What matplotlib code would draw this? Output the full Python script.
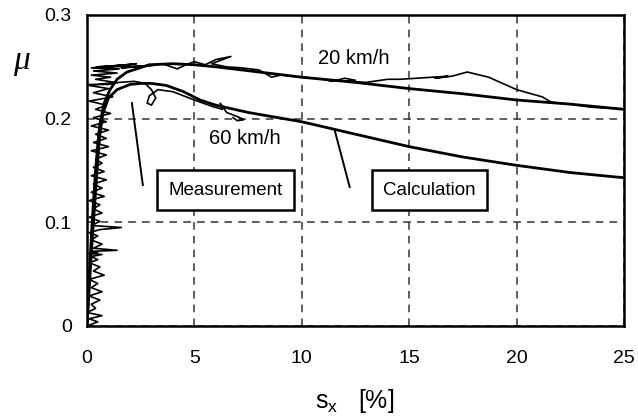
import numpy as np
import matplotlib.pyplot as plt

plt.rcParams['font.family'] = ['Liberation Sans', 'DejaVu Sans']
plt.rcParams['mathtext.fontset'] = 'custom'
plt.rcParams['mathtext.rm'] = 'Liberation Sans'
plt.rcParams['mathtext.it'] = 'Liberation Serif:italic'

# calculated friction curves (slip in %, mu)
calc20_x = [0, 0.1, 0.2, 0.3, 0.4, 0.5, 0.6, 0.8, 1.07, 1.4, 1.86, 2.9, 4.0, 5.0, 6.0, 8.0,
            10.0, 12.5, 15.0, 17.5, 20.0, 22.5, 25.0]
calc20_y = [0, 0.045, 0.085, 0.12, 0.15, 0.175, 0.195, 0.215, 0.228, 0.238, 0.245, 0.252,
            0.253, 0.252, 0.250, 0.245, 0.240, 0.235, 0.229, 0.224, 0.218, 0.214, 0.209]

calc60_x = [0, 0.1, 0.2, 0.3, 0.4, 0.5, 0.6, 0.74, 1.0, 1.4, 2.0, 2.5, 3.0, 3.7, 4.5, 5.26,
            6.0, 7.5, 10.0, 12.5, 15.0, 17.5, 20.0, 22.5, 25.0]
calc60_y = [0, 0.035, 0.07, 0.1, 0.13, 0.16, 0.185, 0.205, 0.22, 0.228, 0.233, 0.234, 0.234,
            0.232, 0.226, 0.218, 0.213, 0.206, 0.197, 0.185, 0.173, 0.163, 0.155, 0.148, 0.143]

# measured traces: noisy run-up near zero slip, then the 20 km/h trace
meas20_x = [0.0, 0.5, 0.1, 0.7, 0.0, 0.4, 0.2, 0.6, 0.1, 0.7, 0.2, 0.5, 0.1, 0.8, 0.3, 0.6,
            0.1, 0.5, 0.2, 0.7, 0.1, 0.5, 0.2, 1.4, 0.3, 0.7, 0.2, 0.5, 0.1, 0.6, 1.6, 0.2,
            0.6, 0.1, 0.7, 0.3, 0.6, 0.1, 0.8, 0.2, 0.7, 0.3, 0.9, 0.2, 0.8, 0.3, 0.7, 0.4,
            0.9, 0.2, 1.0, 0.3, 0.9, 0.4, 1.0, 0.2, 0.9, 0.3, 1.1, 0.4, 0.9, 0.1, 1.2, 0.3,
            1.0, 0.1, 1.3, 0.4, 1.1, 0.2, 1.4, 0.3, 1.5, 0.2, 1.6, 0.5, 1.9, 0.3, 2.3, 1.0,
            2.8, 1.6, 3.0, 3.5, 4.2, 4.6, 5.0, 5.5, 6.0, 6.7, 5.8, 6.5, 7.2, 8.0, 8.6, 9.0,
            8.4, 9.5, 10.0, 11.0, 11.4, 12.0, 12.5, 12.0, 13.0, 14.0, 14.6, 16.1, 16.8,
            16.2, 17.0, 17.7, 18.7, 20.0, 21.2, 21.6, 22.5, 23.5, 24.5, 25.0]
meas20_y = [0.0, 0.004, 0.007, 0.010, 0.013, 0.017, 0.021, 0.025, 0.029, 0.033, 0.037,
            0.041, 0.045, 0.049, 0.053, 0.057, 0.061, 0.064, 0.067, 0.069, 0.070, 0.071,
            0.072, 0.073, 0.075, 0.079, 0.083, 0.087, 0.090, 0.093, 0.095, 0.097, 0.101,
            0.105, 0.109, 0.113, 0.117, 0.121, 0.125, 0.129, 0.133, 0.137, 0.141, 0.145,
            0.149, 0.153, 0.157, 0.161, 0.165, 0.169, 0.173, 0.177, 0.181, 0.185, 0.189,
            0.193, 0.197, 0.201, 0.205, 0.209, 0.213, 0.217, 0.221, 0.225, 0.229, 0.232,
            0.235, 0.238, 0.240, 0.242, 0.244, 0.246, 0.248, 0.249, 0.251, 0.250, 0.252,
            0.249, 0.253, 0.250, 0.251, 0.249, 0.251, 0.253, 0.248, 0.252, 0.255, 0.252,
            0.257, 0.260, 0.253, 0.250, 0.249, 0.247, 0.240, 0.242, 0.244, 0.241, 0.240,
            0.238, 0.236, 0.239, 0.237, 0.236, 0.235, 0.238, 0.238, 0.240, 0.241, 0.239,
            0.241, 0.245, 0.240, 0.228, 0.221, 0.216, 0.214, 0.211, 0.210, 0.209]

meas60_x = [0.0, 1.0, 1.5, 2.2, 2.7, 3.0, 3.2, 3.0, 2.8, 2.9, 3.3, 4.0, 5.0, 5.8, 6.3, 6.2,
            6.5, 7.0, 7.3, 7.0, 6.8]
meas60_y = [0.233, 0.233, 0.235, 0.236, 0.234, 0.228, 0.220, 0.213, 0.215, 0.222, 0.228,
            0.226, 0.218, 0.212, 0.209, 0.215, 0.206, 0.202, 0.199, 0.198, 0.201]

x_ticks = [0, 5, 10, 15, 20, 25]
y_ticks = [0, 0.1, 0.2, 0.3]

fig = plt.figure(figsize=(6.38, 4.18), dpi=100)
ax = fig.add_axes([87 / 638, 1 - 326 / 418, 537 / 638, 311 / 418])

ax.plot(calc20_x, calc20_y, color='black', lw=2.0)
ax.plot(calc60_x, calc60_y, color='black', lw=2.0)
ax.plot(meas20_x, meas20_y, color='black', lw=1.2)
ax.plot(meas60_x, meas60_y, color='black', lw=1.2)

# pointer lines to the labels
ax.plot([2.6, 2.09], [0.136, 0.215], color='black', lw=1.4)
ax.plot([12.23, 11.53], [0.134, 0.189], color='black', lw=1.4)

box = dict(boxstyle='square,pad=0.6', facecolor='white', edgecolor='black', lw=1.8)
ax.text(6.45, 0.131, 'Measurement', fontsize=13.5, ha='center', va='center', bbox=box)
ax.text(15.95, 0.131, 'Calculation', fontsize=13.5, ha='center', va='center', bbox=box)
ax.text(12.4, 0.258, '20 km/h', fontsize=14.5, ha='center', va='center')
ax.text(7.35, 0.181, '60 km/h', fontsize=14.5, ha='center', va='center')

ax.set_xlim(0, 25)
ax.set_ylim(0, 0.3)
ax.set_xticks(x_ticks)
ax.set_yticks(y_ticks)
ax.set_xticklabels([str(t) for t in x_ticks])
ax.set_yticklabels(['0', '0.1', '0.2', '0.3'])
ax.tick_params(axis='x', length=0, pad=17, labelsize=14)
ax.tick_params(axis='y', length=0, pad=11, labelsize=14)
ax.grid(True, color='#333333', linestyle=(0, (5, 4)), lw=1.1)
for s in ax.spines.values():
    s.set_linewidth(1.8)

fig.text(22 / 638, 1 - 62 / 418, r'$\mu$', fontsize=24, ha='center', va='center')
fig.text(355 / 638, 1 - 401 / 418, r'$\mathrm{s_x}$   [%]', fontsize=18, ha='center', va='center')

fig.savefig('out.png', dpi=100, facecolor='white')
